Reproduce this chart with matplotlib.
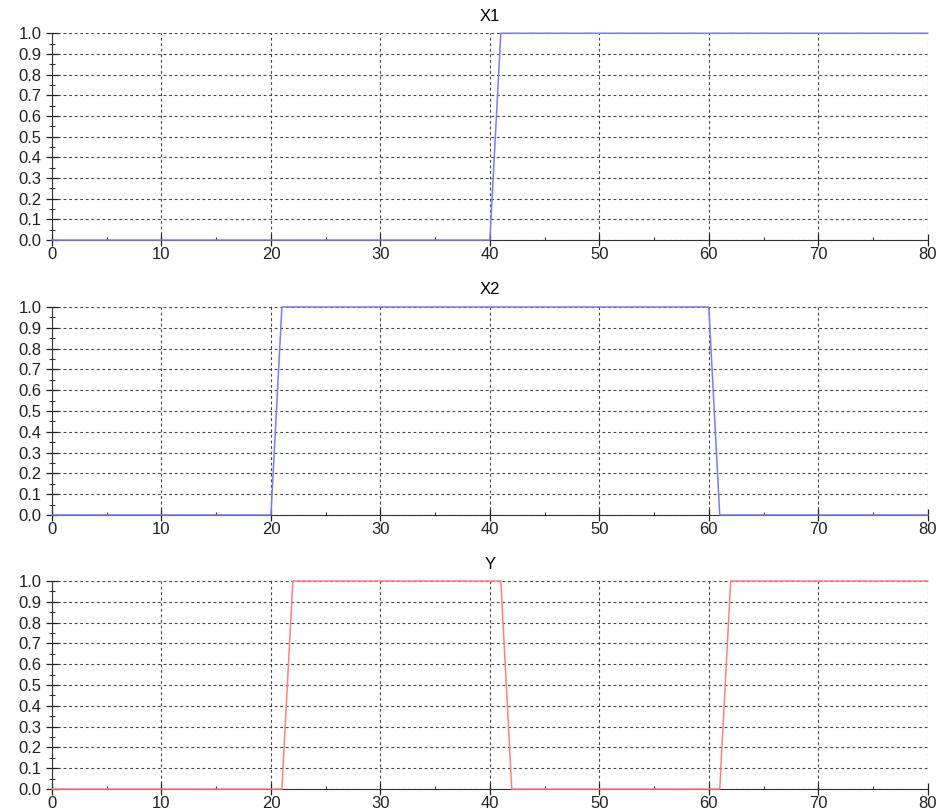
import matplotlib.pyplot as plt
from matplotlib.ticker import MultipleLocator

plt.rcParams['font.family'] = ['Liberation Sans', 'DejaVu Sans']

# breakpoints of each signal (time, value)
x1_t = [0, 40, 41, 80]
x1_v = [0, 0, 1, 1]

x2_t = [0, 20, 21, 60, 61, 80]
x2_v = [0, 0, 1, 1, 0, 0]

y_t = [0, 21, 22, 41, 42, 61, 62, 80]
y_v = [0, 0, 1, 1, 0, 0, 1, 1]

series = [
    ('X1', x1_t, x1_v, '#7a7aff'),
    ('X2', x2_t, x2_v, '#7a7aff'),
    ('Y', y_t, y_v, '#ff8080'),
]

fig = plt.figure(figsize=(9.39, 8.11), dpi=100)
boxes = [(0.704, 0.255), (0.365, 0.2565), (0.0271, 0.2565)]

for (title, t, v, color), (bottom, height) in zip(series, boxes):
    ax = fig.add_axes([0.0554, bottom, 0.9326, height])
    ax.plot(t, v, color=color, lw=1.1, clip_on=False, zorder=3)
    ax.set_xlim(0, 80)
    ax.set_ylim(0, 1)
    ax.xaxis.set_major_locator(MultipleLocator(10))
    ax.xaxis.set_minor_locator(MultipleLocator(5))
    ax.yaxis.set_major_locator(MultipleLocator(0.1))
    ax.yaxis.set_minor_locator(MultipleLocator(0.05))
    ax.yaxis.set_major_formatter(lambda val, pos: f'{val:.1f}')
    ax.grid(True, which='major', color='#444444', ls=(0, (2.5, 2.5)), lw=0.8)
    ax.spines['top'].set_visible(False)
    ax.spines['right'].set_visible(False)
    ax.spines['left'].set_color('#333333')
    ax.spines['bottom'].set_color('#333333')
    ax.tick_params(which='major', direction='inout', length=8, width=0.9,
                   labelsize=12, colors='#222222')
    ax.tick_params(axis='y', which='minor', direction='inout', length=5,
                   width=0.8, colors='#333333')
    ax.tick_params(axis='x', which='minor', direction='in', length=2,
                   width=0.8, colors='#333333')
    ax.tick_params(axis='x', pad=1)
    ax.set_title(title, fontsize=12, pad=9)
    ax.set_axisbelow(True)

fig.savefig('out.png', dpi=100)
